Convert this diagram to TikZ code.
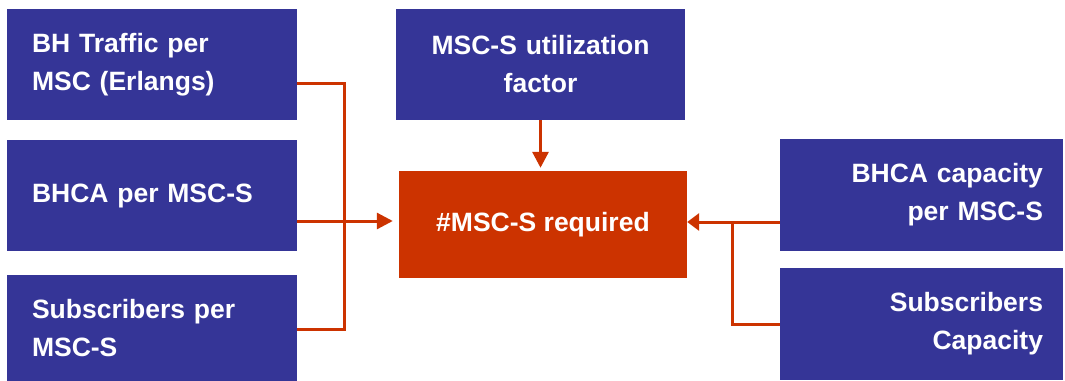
\documentclass[tikz,border=0pt]{standalone}
\usepackage{fontspec}
\setmainfont{Liberation Sans}
\usetikzlibrary{arrows.meta}
\definecolor{boxblue}{HTML}{353597}
\definecolor{boxred}{HTML}{CC3300}
\tikzset{
  bluebox/.style={fill=boxblue, draw=none, inner xsep=0pt, inner ysep=0pt,
    text=white, font=\fontsize{26.5}{38}\selectfont\bfseries},
  redbox/.style={fill=boxred, draw=none, inner sep=0pt, text=white,
    font=\fontsize{26.5}{38}\selectfont\bfseries},
  conn/.style={draw=boxred, line width=3pt},
  arr/.style={conn, -{Triangle[length=16pt,width=16pt]}},
}
\begin{document}
\begin{tikzpicture}[x=1pt,y=-1pt]
\useasboundingbox (0,0) rectangle (1065,380);
% left column
\node[bluebox, minimum width=290pt, minimum height=111pt, text width=240pt, align=left] (bh) at (152,64.5) {BH Traffic per\\MSC (Erlangs)};
\node[bluebox, minimum width=290pt, minimum height=111pt, text width=240pt, align=left] (bhca) at (152,195.5) {BHCA per MSC-S};
\node[bluebox, minimum width=290pt, minimum height=106pt, text width=240pt, align=left] (subs) at (152,328) {Subscribers per\\MSC-S};
% center
\node[bluebox, minimum width=289pt, minimum height=111pt, text width=260pt, align=center] (util) at (540.5,64.5) {MSC-S utilization\\factor};
\node[redbox, minimum width=288pt, minimum height=107pt] (req) at (543,224.5) {\#MSC-S required};
% right column
\node[bluebox, minimum width=283pt, minimum height=112pt, text width=243pt, align=right] (bcap) at (921.5,195) {BHCA capacity\\per MSC-S};
\node[bluebox, minimum width=283pt, minimum height=112pt, text width=243pt, align=right] (scap) at (921.5,324) {Subscribers\\Capacity};
% connectors
\coordinate (jl) at (344,83);
\draw[conn] (bh.east |- jl) -- (jl) -- (jl |- 0,329) -- (subs.east |- 0,329);
\draw[arr, shorten >=6pt] (bhca.east |- 0,221) -- (req.west |- 0,221);
\draw[arr, shorten >=3pt] (util.south) -- (req.north -| util.south);
\coordinate (jr) at (732,222);
\draw[conn, -{Triangle[length=12pt,width=17pt]}] (bcap.west |- jr) -- (req.east |- jr);
\draw[conn] (scap.west |- 0,324) -- (jr |- 0,324) -- (jr);
\end{tikzpicture}
\end{document}
